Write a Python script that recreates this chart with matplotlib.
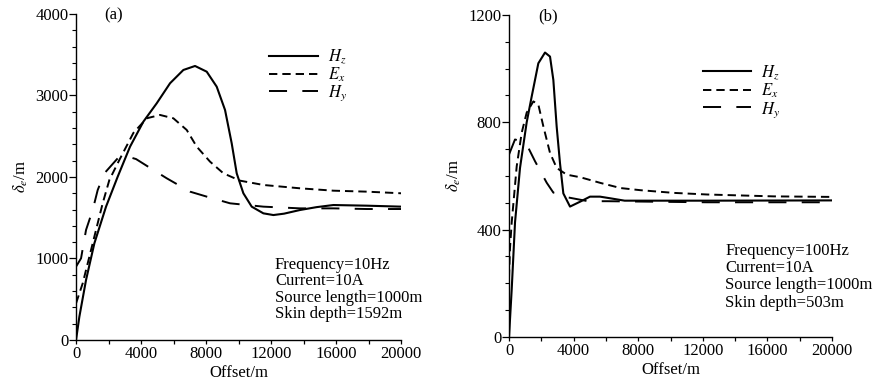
import matplotlib
matplotlib.use("Agg")
import matplotlib.pyplot as plt
from matplotlib.ticker import MultipleLocator

plt.rcParams['font.family'] = ['Liberation Serif', 'DejaVu Serif']
plt.rcParams['mathtext.fontset'] = 'stix'
plt.rcParams['lines.scale_dashes'] = False

# ---- Panel (a): 10 Hz ----
a_hz_x = [0, 205, 615, 1128, 1846, 2564, 3323, 4144, 4964, 5785, 6605, 7323, 8041, 8656, 9169, 9579, 9887, 10297, 10810, 11528, 12144, 12800, 13785, 14800, 15836, 17887, 20000]
a_hz_y = [0, 286, 736, 1186, 1636, 2004, 2372, 2679, 2904, 3150, 3313, 3362, 3292, 3108, 2822, 2413, 2045, 1800, 1636, 1554, 1533, 1550, 1595, 1630, 1656, 1648, 1636]
a_ex_x = [0, 410, 820, 1230, 1640, 2050, 2666, 3528, 4349, 5169, 5990, 6810, 7426, 8246, 9067, 10092, 11528, 13785, 15836, 17887, 20000]
a_ex_y = [450, 695, 1022, 1350, 1677, 1963, 2209, 2540, 2720, 2761, 2720, 2577, 2372, 2188, 2045, 1955, 1902, 1861, 1832, 1820, 1800]
a_hy_x = [0, 308, 615, 1025, 1333, 1743, 2564, 3180, 3692, 4759, 5580, 7015, 8041, 9477, 11528, 13785, 15836, 17887, 20000]
a_hy_y = [900, 1002, 1350, 1595, 1840, 2045, 2229, 2250, 2220, 2086, 1984, 1820, 1759, 1677, 1636, 1615, 1615, 1607, 1607]

# ---- Panel (b): 100 Hz ----
b_hz_x = [0, 167, 372, 681, 1094, 1404, 1816, 2229, 2539, 2745, 2951, 3158, 3364, 3777, 4396, 5015, 5635, 6254, 7160, 12268, 20000]
b_hz_y = [0, 178, 427, 630, 800, 896, 1020, 1060, 1045, 958, 784, 647, 535, 486, 504, 523, 523, 517, 508, 508, 509]
b_ex_x = [0, 60, 167, 476, 785, 1094, 1507, 1816, 2126, 2538, 2951, 3570, 4433, 5670, 6907, 8144, 10206, 12268, 16392, 20000]
b_ex_y = [220, 330, 427, 636, 761, 836, 878, 866, 785, 686, 630, 605, 595, 574, 555, 547, 537, 531, 524, 522]
b_hy_x = [0, 370, 750, 1196, 1610, 2332, 2745, 3055, 3662, 4897, 6083, 12268, 20000]
b_hy_y = [680, 736, 730, 705, 655, 575, 538, 535, 520, 506, 506, 502, 502]

labels = [r'$H_z$', r'$E_x$', r'$H_y$']
x_ticks = [0, 4000, 8000, 12000, 16000, 20000]
a_yticks = [0, 1000, 2000, 3000, 4000]
b_yticks = [0, 400, 800, 1200]
a_info = "Frequency=10Hz\nCurrent=10A\nSource length=1000m\nSkin depth=1592m"
b_info = "Frequency=100Hz\nCurrent=10A\nSource length=1000m\nSkin depth=503m"

fig = plt.figure(figsize=(8.77, 3.85), dpi=100)
axa = fig.add_axes([0.0867, 0.1169, 0.3706, 0.8468])
axb = fig.add_axes([0.5804, 0.1247, 0.3683, 0.8364])

FS = 12
ex_dash = (6, 3.6)
hy_dash = (13, 11)

def style(ax, yticks, ymax, yminor):
    ax.set_xlim(0, 20000)
    ax.set_ylim(0, ymax)
    ax.set_xticks(x_ticks)
    ax.set_yticks(yticks)
    ax.xaxis.set_minor_locator(MultipleLocator(2000))
    ax.yaxis.set_minor_locator(MultipleLocator(yminor))
    for s in ['top', 'right']:
        ax.spines[s].set_visible(False)
    for s in ['left', 'bottom']:
        ax.spines[s].set_linewidth(1.0)
    ax.tick_params(axis='y', which='major', direction='out', length=5, width=0.9, labelsize=FS, pad=0.5)
    ax.tick_params(axis='y', which='minor', direction='out', length=3, width=0.8)
    ax.tick_params(axis='x', which='both', direction='out', length=3, width=0.9, labelsize=FS, pad=1.5)
    ax.set_xlabel('Offset/m', fontsize=FS, labelpad=2)
    ax.set_ylabel(r'$\delta_e$/m', fontsize=FS, labelpad=4)

def draw(ax, hz, ex, hy):
    l1, = ax.plot(hz[0], hz[1], color='black', lw=1.5, label=labels[0])
    l2, = ax.plot(ex[0], ex[1], color='black', lw=1.4, label=labels[1])
    l2.set_dashes(ex_dash)
    l3, = ax.plot(hy[0], hy[1], color='black', lw=1.4, label=labels[2])
    l3.set_dashes(hy_dash)
    return [l1, l2, l3]

draw(axa, (a_hz_x, a_hz_y), (a_ex_x, a_ex_y), (a_hy_x, a_hy_y))
draw(axb, (b_hz_x, b_hz_y), (b_ex_x, b_ex_y), (b_hy_x, b_hy_y))
style(axa, a_yticks, 4000, 200)
style(axb, b_yticks, 1200, 100)

axa.legend(loc='upper left', bbox_to_anchor=(0.595, 0.895), frameon=False, fontsize=FS,
           handlelength=2.9, handletextpad=0.6, labelspacing=-0.05, borderpad=0, borderaxespad=0)
axb.legend(loc='upper left', bbox_to_anchor=(0.600, 0.85), frameon=False, fontsize=FS,
           handlelength=2.9, handletextpad=0.6, labelspacing=0.0, borderpad=0, borderaxespad=0)

axa.text(0.612, 0.256, a_info, transform=axa.transAxes, ha='left', va='top', fontsize=FS, linespacing=1.05)
axb.text(0.669, 0.292, b_info, transform=axb.transAxes, ha='left', va='top', fontsize=FS, linespacing=1.1)

axa.text(0.115, 0.995, '(a)', transform=axa.transAxes, ha='center', va='center', fontsize=FS)
axb.text(0.12, 0.995, '(b)', transform=axb.transAxes, ha='center', va='center', fontsize=FS)

fig.savefig('out.png', dpi=100)
